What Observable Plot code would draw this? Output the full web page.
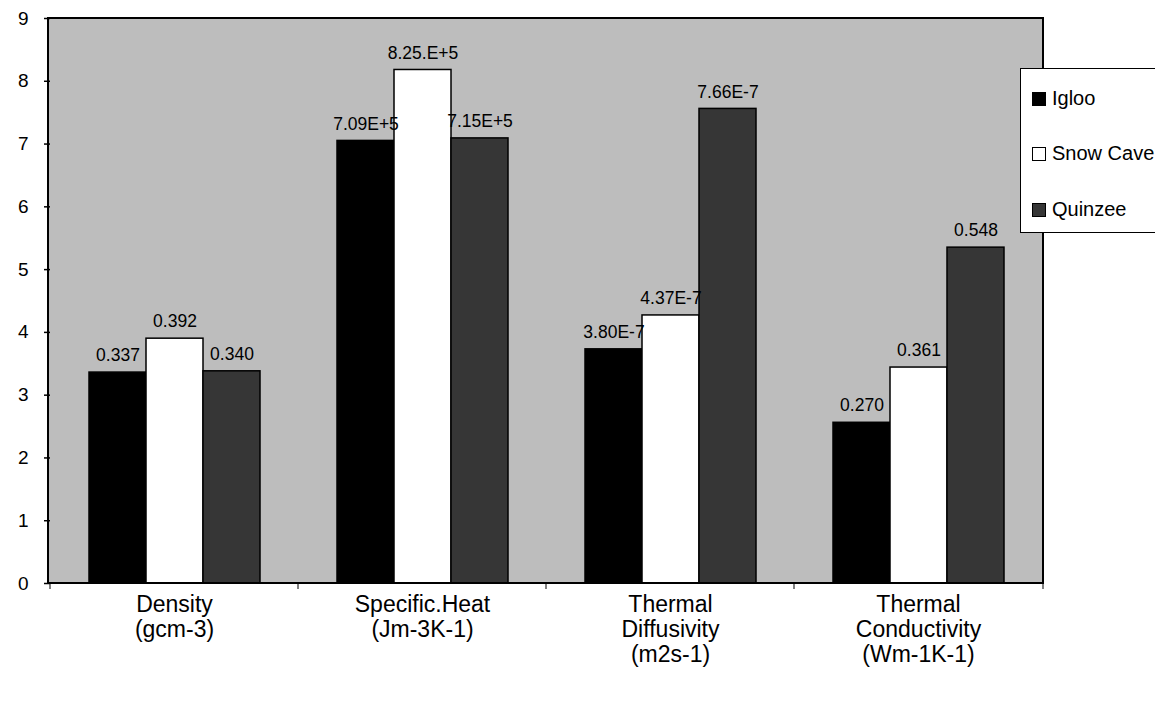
<!DOCTYPE html>
<html>
<head>
<meta charset="utf-8">
<script src="https://cdn.jsdelivr.net/npm/d3@7"></script>
<script src="https://cdn.jsdelivr.net/npm/@observablehq/plot@0.6"></script>
<style>
  html, body { margin: 0; padding: 0; background: #ffffff; }
  #wrap { position: relative; width: 1155px; height: 704px; overflow: hidden; font-family: "Liberation Sans", Arial, sans-serif; }
  #legend { position: absolute; left: 1020px; top: 68px; width: 150px; height: 165px; background: #fff; border: 1.5px solid #000; box-sizing: border-box; }
  .item { position: absolute; left: 11px; font-size: 20px; line-height: 20px; color: #000; white-space: nowrap; }
  .sw { display: inline-block; width: 12px; height: 12px; border: 1px solid #000; margin-right: 6px; vertical-align: -1px; }
</style>
</head>
<body>
<div id="wrap"></div>
<script>
const categories = ["Density", "Specific.Heat", "Thermal Diffusivity", "Thermal Conductivity"];
const categoryLabels = ["Density\n(gcm-3)", "Specific.Heat\n(Jm-3K-1)", "Thermal\nDiffusivity\n(m2s-1)", "Thermal\nConductivity\n(Wm-1K-1)"];
const series = ["Igloo", "Snow Cave", "Quinzee"];
const seriesColors = ["#000000", "#ffffff", "#363636"];
const iglooValues = [3.36, 7.05, 3.73, 2.56];
const snowCaveValues = [3.90, 8.18, 4.27, 3.44];
const quinzeeValues = [3.38, 7.09, 7.56, 5.35];
const iglooLabels = ["0.337", "7.09E+5", "3.80E-7", "0.270"];
const snowCaveLabels = ["0.392", "8.25.E+5", "4.37E-7", "0.361"];
const quinzeeLabels = ["0.340", "7.15E+5", "7.66E-7", "0.548"];
const yTicks = [0, 1, 2, 3, 4, 5, 6, 7, 8, 9];

const valuesBySeries = [iglooValues, snowCaveValues, quinzeeValues];
const labelsBySeries = [iglooLabels, snowCaveLabels, quinzeeLabels];
const data = categories.flatMap((c, i) => series.map((s, j) => ({
  cat: c, series: s, value: valuesBySeries[j][i], label: labelsBySeries[j][i]
})));

const plot = Plot.plot({
  width: 1155,
  height: 704,
  marginTop: 18,
  marginBottom: 121,
  marginLeft: 48,
  marginRight: 112,
  style: { fontFamily: "'Liberation Sans', Arial, sans-serif", background: "transparent", color: "#000" },
  fx: { domain: categories, padding: 0, label: null },
  x: { domain: series, paddingInner: 0, paddingOuter: 0.66, axis: null },
  y: { domain: [0, 9], label: null },
  color: { domain: series, range: seriesColors },
  marks: [
    Plot.axisY({ ticks: yTicks, tickSize: 6, tickPadding: 16, fontSize: 19, label: null, strokeWidth: 1.5 }),
    Plot.axisFx({ anchor: "bottom", tickSize: 0, tickPadding: 11, fontSize: 23, lineHeight: 1.09, label: null,
      tickFormat: d => categoryLabels[categories.indexOf(d)] }),
    Plot.barY(data, { fx: "cat", x: "series", y: "value", fill: "series", stroke: "#000", strokeWidth: 1.5 }),
    Plot.text(data, { fx: "cat", x: "series", y: "value", text: "label", dy: -17, fontSize: 17.5, fill: "#000" })
  ]
});

document.getElementById("wrap").appendChild(plot);

// plot-area background and border from the scales
const svg = d3.select(plot);
const fx = plot.scale("fx");
const y = plot.scale("y");
const x0 = fx.range[0], x1 = fx.range[1];
const yTop = y.apply(9), yBot = y.apply(0);
svg.insert("rect", ":first-child")
  .attr("x", x0).attr("y", yTop).attr("width", x1 - x0).attr("height", yBot - yTop)
  .attr("fill", "#bdbdbd");
svg.append("rect")
  .attr("x", x0).attr("y", yTop).attr("width", x1 - x0).attr("height", yBot - yTop)
  .attr("fill", "none").attr("stroke", "#000").attr("stroke-width", 2);
const bounds = categories.map(c => fx.apply(c)).concat([x1]);
svg.append("g").selectAll("line").data(bounds).join("line")
  .attr("x1", d => d).attr("x2", d => d).attr("y1", yBot).attr("y2", yBot + 6)
  .attr("stroke", "#000").attr("stroke-width", 1);

// legend
const legend = document.createElement("div");
legend.id = "legend";
const legendTops = [19, 74, 130];
series.forEach((s, i) => {
  const it = document.createElement("div");
  it.className = "item";
  it.style.top = legendTops[i] + "px";
  it.innerHTML = `<span class="sw" style="background:${seriesColors[i]}"></span>${s}`;
  legend.appendChild(it);
});
document.getElementById("wrap").appendChild(legend);
</script>
</body>
</html>
